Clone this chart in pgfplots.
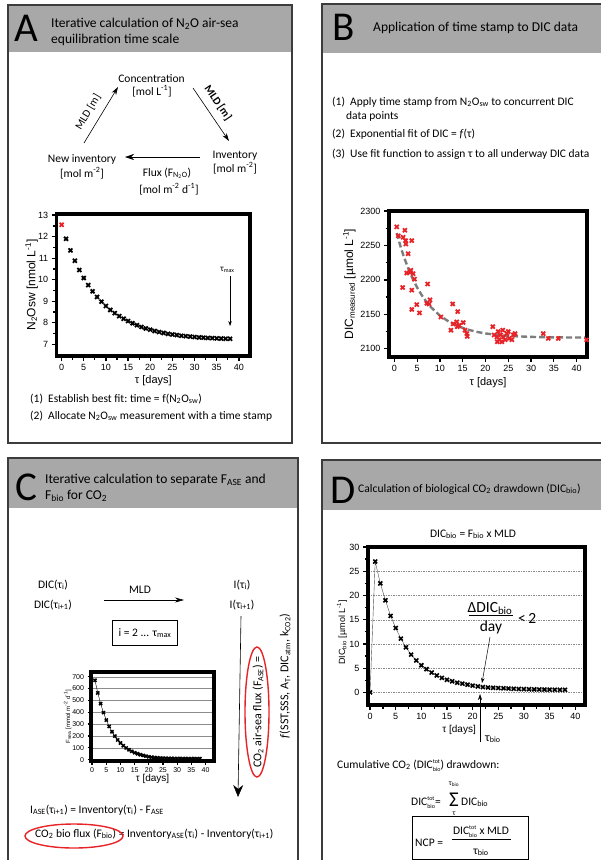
\documentclass[border=0pt]{standalone}
\usepackage{pgfplots}
\pgfplotsset{compat=1.18}
\usepackage{fontspec}
\setmainfont{Carlito}
\newfontfamily\arial{Liberation Sans}
\usetikzlibrary{arrows.meta}

\definecolor{hdr}{RGB}{168,168,168}
\definecolor{mred}{RGB}{232,35,40}
\definecolor{fitgray}{RGB}{125,125,125}
\definecolor{frame}{RGB}{60,60,60}
\newcommand\fs[1]{\fontsize{#1}{#1}\selectfont}
% stacked super/subscript, e.g. DIC^tot_bio
\newcommand\tb[2]{{\fs{6}\begin{tabular}{@{}l@{}}#1\\[1.6pt]#2\end{tabular}}}

\pgfplotsset{
  prism/.style={
    scale only axis, clip=false,
    axis line style={line width=3.2pt},
    tick style={black, line width=1.3pt},
    tick align=outside,
    major tick length=5pt, minor tick length=3.5pt,
    xtick pos=bottom, ytick pos=left,
    /pgf/number format/assume math mode=true,
    /pgf/number format/1000 sep={},
    tick label style={font=\arial\fs{9}},
    label style={font=\arial\fs{11}},
    ylabel style={anchor=center},
  },
  xmk/.style={mark=x, mark size=2.8pt, mark options={line width=1.8pt, solid}},
}

\begin{document}
\begin{tikzpicture}[font=\fs{11.5}]
\useasboundingbox (0pt,0pt) rectangle (601pt,-860pt);
\clip (0pt,0pt) rectangle (601pt,-860pt);

% ---- panel frames and headers (pixel coordinates, y downwards)
\begin{scope}[x=1pt, y=-1pt]
  \fill[white] (0,0) rectangle (601,860);
  \fill[hdr] (8,5) rectangle (292,52);
  \draw[frame, line width=1.2pt] (8,5) rectangle (292,443);
  \fill[hdr] (322,4) rectangle (606,53);
  \draw[frame, line width=1.2pt] (606,4) -- (322,4) -- (322,443) -- (606,443);
  \fill[hdr] (8,458) rectangle (298,508);
  \draw[frame, line width=1.2pt] (8,870) -- (8,458) -- (298,458) -- (298,870);
  \fill[hdr] (322,460) rectangle (606,510);
  \draw[frame, line width=1.2pt] (606,460) -- (322,460) -- (322,870);
\end{scope}

% ---- A: N2O equilibration
\begin{axis}[prism, at={(56.7pt,-356pt)}, anchor=south west,
  width=193.3pt, height=142pt,
  xmin=-1.1, xmax=42.5, ymin=6.46, ymax=13.05,
  xtick={0,5,...,40}, ytick={7,...,13}, minor x tick num=1, minor y tick num=1,
  xlabel={τ [days]}, ylabel={N\textsubscript{2}Osw [nmol L\textsuperscript{-1}]},
  xlabel style={at={(axis description cs:0.5,0)}, anchor=north, yshift=-16pt},
  ylabel style={at={(axis description cs:-0.13,0.5)}, font=\arial\fs{12}},
]
\addplot[only marks, xmk, mred] coordinates {(0,12.55)};
\addplot[only marks, xmk, black] coordinates {
(1,11.90) (2,11.36) (3,10.88) (4,10.45) (5,10.08) (6,9.75) (7,9.46) (8,9.20)
(9,8.98) (10,8.78) (11,8.60) (12,8.45) (13,8.31) (14,8.19) (15,8.08) (16,7.98)
(17,7.89) (18,7.81) (19,7.74) (20,7.68) (21,7.62) (22,7.57) (23,7.53) (24,7.49)
(25,7.46) (26,7.43) (27,7.40) (28,7.38) (29,7.36) (30,7.34) (31,7.32) (32,7.31)
(33,7.30) (34,7.29) (35,7.28) (36,7.27) (37,7.26) (38,7.26)};
\draw[-{Stealth[length=5pt,width=3.5pt]}, line width=0.5pt] (axis cs:38,10.15) -- (axis cs:38,7.85);
\node[anchor=base, font=\fs{9}] at (axis cs:37.4,10.4) {τ\textsubscript{max}};
\draw[black, line width=3.2pt] (rel axis cs:0,0) rectangle (rel axis cs:1,1);
\end{axis}

% ---- B: DIC vs tau
\begin{axis}[prism, at={(389pt,-357pt)}, anchor=south west,
  width=198pt, height=146pt,
  xmin=-1.2, xmax=42.3, ymin=2088, ymax=2300,
  xtick={0,5,...,40}, ytick={2100,2150,...,2300}, minor y tick num=1,
  xlabel={τ [days]}, ylabel={DIC\textsubscript{measured} [µmol L\textsuperscript{-1}]},
  xlabel style={at={(axis description cs:0.5,0)}, anchor=north, yshift=-17pt},
  ylabel style={at={(axis description cs:-0.2,0.5)}, font=\arial\fs{12}},
]
\addplot[fitgray, line width=2.4pt, dash pattern=on 6pt off 3pt] coordinates {
(0.5,2268.0) (1,2256.1) (1.5,2245.0) (2,2234.8) (3,2217.0) (4,2201.6) (5,2188.7)
(6,2177.7) (7,2168.3) (8,2160.4) (10,2148.0) (12,2139.1) (14,2132.6) (16,2128.0)
(18,2124.6) (20,2122.2) (23,2119.8) (26,2118.3) (30,2117.2) (35,2116.5) (42.3,2116.2)};
\addplot[only marks, xmk, mred] coordinates {
(0.5,2277) (0.85,2264) (1.9,2262) (2.3,2272) (2.45,2257) (2.5,2252) (3.0,2238)
(3.8,2257) (2.7,2210) (3.4,2211) (3.6,2214) (4.1,2209) (4.4,2201) (1.8,2189)
(3.8,2185) (3.8,2157) (4.9,2164) (5.5,2152) (7.3,2194) (7.1,2166) (7.8,2171)
(7.6,2165) (10.2,2146) (12.8,2165) (13.9,2154) (12.4,2127) (12.9,2136) (13.7,2139)
(13.8,2132) (14.2,2134) (15.1,2138) (15.5,2127) (15.9,2122) (16.0,2118)
(21.6,2132) (21.9,2120) (22.5,2117) (22.8,2125) (23.0,2113) (23.3,2120) (23.8,2127)
(23.9,2117) (24.3,2113) (24.7,2122) (25.0,2125) (25.2,2115) (25.8,2113) (26.1,2120)
(26.5,2122) (23.6,2110) (22.6,2110) (32.7,2122) (33.8,2115) (36.0,2115) (42.2,2113)};
\draw[black, line width=3.2pt] (rel axis cs:0,0) rectangle (rel axis cs:1,1);
\end{axis}

% ---- C: air-sea flux
\begin{axis}[prism, at={(91pt,-761pt)}, anchor=south west,
  width=123pt, height=89pt,
  xmin=-0.4, xmax=43, ymin=-12, ymax=740,
  major tick length=3.5pt,
  xtick={0,5,...,40}, ytick={0,100,...,700},
  ymajorgrids, major grid style={black!45, line width=0.4pt},
  tick label style={font=\arial\fs{7}},
  xlabel={τ [days]}, ylabel={F\textsubscript{sea} [mmol m\textsuperscript{-2} d\textsuperscript{-1}]},
  xlabel style={at={(axis description cs:0.5,0)}, anchor=north, yshift=-10pt, font=\arial\fs{10}},
  ylabel style={at={(axis description cs:-0.19,0.5)}, font=\arial\fs{6}},
]
\addplot[black, line width=0.4pt, mark=x, mark size=2.2pt, mark options={line width=1.5pt}] coordinates {
(1,670) (2,563) (3,473) (4,397) (5,334) (6,280) (7,235) (8,198) (9,166) (10,140)
(11,117) (12,98) (13,83) (14,70) (15,58) (16,49) (17,41) (18,35) (19,29) (20,24)
(21,20) (22,17) (23,15) (24,13) (25,12) (26,11) (27,10) (28,10) (29,9) (30,9)
(31,9) (32,8) (33,8) (34,8) (35,8) (36,8) (37,8) (38,8)};
\draw[black, line width=2.8pt] (rel axis cs:0,0) rectangle (rel axis cs:1,1);
\end{axis}

% ---- D: biological drawdown
\begin{axis}[prism, at={(368pt,-705pt)}, anchor=south west,
  width=217pt, height=158pt,
  xmin=-0.4, xmax=41.9, ymin=-2.6, ymax=30,
  xtick={0,5,...,40}, ytick={0,5,...,30}, minor x tick num=1, minor y tick num=1,
  ymajorgrids, major grid style={black!45, dash pattern=on 1.5pt off 1pt, line width=0.4pt},
  xlabel={τ [days]}, ylabel={DIC\textsubscript{bio} [µmol L\textsuperscript{-1}]},
  xlabel style={at={(axis description cs:0.42,0)}, anchor=north, yshift=-17pt, font=\arial\fs{10}},
  ylabel style={at={(axis description cs:-0.12,0.46)}, font=\arial\fs{9}},
]
\addplot[black!70, line width=0.4pt, mark=x, mark size=2.8pt, mark options={black, line width=1.6pt}] coordinates {
(0,0) (1,27) (2,22.5) (3,19) (4,15.8) (5,13.3) (6,11.1) (7,9.3) (8,7.8) (9,6.6)
(10,5.6) (11,4.8) (12,4.1) (13,3.5) (14,3.0) (15,2.6) (16,2.3) (17,2.0) (18,1.8)
(19,1.6) (20,1.4) (21,1.25) (22,1.1) (23,1.0) (24,0.95) (25,0.9) (26,0.85)
(27,0.8) (28,0.75) (29,0.7) (30,0.68) (31,0.65) (32,0.62) (33,0.6) (34,0.58)
(35,0.56) (36,0.55) (37,0.54) (38,0.53)};
\draw[black, line width=3.2pt] (rel axis cs:0,0) rectangle (rel axis cs:1,1);
\end{axis}

% ---- text and diagram elements
\begin{scope}[x=1pt, y=-1pt, every node/.style={inner sep=0pt}]
  % A header and cycle
  \node[anchor=base west, font=\fs{41}] at (14,41) {A};
  \node[anchor=base west, font=\fs{13.5}] at (51,27) {Iterative calculation of N\textsubscript{2}O air-sea};
  \node[anchor=base west, font=\fs{13.5}] at (51,43) {equilibration time scale};
  \node[anchor=base] at (151.5,82) {Concentration};
  \node[anchor=base] at (152,95) {[mol L\textsuperscript{-1}]};
  \draw[-{Stealth[length=8pt,width=5pt]}, line width=0.6pt] (84,143) -- (118,87);
  \node[rotate=59, font=\fs{11}] at (88,112) {MLD [m]};
  \draw[-{Stealth[length=8pt,width=5pt]}, line width=0.6pt] (193,88) -- (229,141);
  \node[rotate=-56, font=\bfseries\fs{11}] at (218,103) {MLD [m]};
  \node[anchor=base] at (82,162) {New inventory};
  \node[anchor=base] at (82,177) {[mol m\textsuperscript{-2}]};
  \node[anchor=base] at (235,158) {Inventory};
  \node[anchor=base] at (235,172) {[mol m\textsuperscript{-2}]};
  \draw[-{Stealth[length=9pt,width=6pt]}, line width=0.6pt] (200,157) -- (125,157);
  \node[anchor=base] at (167,176) {Flux (F\textsubscript{N\textsubscript{2}O})};
  \node[anchor=base] at (169,193) {[mol m\textsuperscript{-2} d\textsuperscript{-1}]};
  \node[anchor=base west] at (30,402) {(1)\ \ Establish best fit:\ time = f(N\textsubscript{2}O\textsubscript{sw})};
  \node[anchor=base west] at (30,419) {(2)\ \ Allocate N\textsubscript{2}O\textsubscript{sw} measurement with a time stamp};

  % B header and steps
  \node[anchor=base west, font=\fs{41}] at (332,40) {B};
  \node[anchor=base west, font=\fs{13.5}] at (373,31) {Application of time stamp to DIC data};
  \node[anchor=base west] at (332,105) {(1)\ \ Apply time stamp from N\textsubscript{2}O\textsubscript{sw} to concurrent DIC};
  \node[anchor=base west] at (346,119) {data points};
  \node[anchor=base west] at (332,137) {(2)\ \ Exponential fit of DIC = \textit{f}(τ)};
  \node[anchor=base west] at (332,157) {(3)\ \ Use fit function to assign τ to all underway DIC data};

  % C header and scheme
  \node[anchor=base west, font=\fs{41}] at (15,500) {C};
  \node[anchor=base west, font=\fs{13.5}] at (45,483) {Iterative calculation to separate F\textsubscript{ASE} and};
  \node[anchor=base west, font=\fs{13.5}] at (45,499) {F\textsubscript{bio} for CO\textsubscript{2}};
  \node[anchor=base] at (53,588) {DIC(τ\textsubscript{i})};
  \node[anchor=base] at (53,608) {DIC(τ\textsubscript{i+1})};
  \node[anchor=base] at (140,593) {MLD};
  \draw[-{Stealth[length=9pt,width=5pt]}, line width=0.6pt] (104,600) -- (184,600);
  \node[anchor=base] at (242,588) {I(τ\textsubscript{i})};
  \node[anchor=base] at (242,608) {I(τ\textsubscript{i+1})};
  \draw[line width=0.6pt] (112,620) rectangle (177,645);
  \node[anchor=base] at (145,636) {i = 2 ... τ\textsubscript{max}};
  \draw[-{Stealth[length=12pt,width=10pt]}, line width=0.6pt] (241,616) -- (238,797);
  \node[rotate=90, font=\fs{12}] at (258,712) {CO\textsubscript{2} air-sea flux (F\textsubscript{ASE}) =};
  \draw[mred, line width=1.4pt] (257,712) ellipse (12 and 65);
  \node[rotate=90, font=\fs{12}] at (285,676) {\textit{f}(SST,SSS, A\textsubscript{T}, DIC\textsubscript{atm}, k\textsubscript{CO2})};
  \node[anchor=base west] at (30,813) {I\textsubscript{ASE}(τ\textsubscript{i+1}) = Inventory(τ\textsubscript{i}) - F\textsubscript{ASE}};
  \node[anchor=base west] at (35,837) {CO\textsubscript{2} bio flux (F\textsubscript{bio}) = Inventory\textsubscript{ASE}(τ\textsubscript{i}) - Inventory(τ\textsubscript{i+1})};
  \draw[mred, line width=1.4pt] (74,836) ellipse (49 and 12);

  % D header and annotations
  \node[anchor=base west, font=\fs{41}] at (330,503) {D};
  \node[anchor=base west, font=\fs{11.6}] at (358,492) {Calculation of biological CO\textsubscript{2} drawdown (DIC\textsubscript{bio})};
  \node[anchor=base] at (473,537) {DIC\textsubscript{bio} = F\textsubscript{bio} x MLD};
  \node[anchor=base, font=\fs{15.5}] at (490,612) {ΔDIC\textsubscript{bio}};
  \draw[line width=0.6pt] (469,615) -- (513,615);
  \node[anchor=base, font=\fs{15.5}] at (491,631) {day};
  \node[anchor=west, font=\fs{15.5}] at (518,618) {<\,2};
  \draw[-{Stealth[length=5pt,width=3.5pt]}, line width=0.5pt] (490,637) -- (482,683);
  \draw[-{Stealth[length=6pt,width=4pt]}, line width=0.6pt] (480,742) -- (480,694);
  \node[anchor=base west, font=\fs{12}] at (485,741) {τ\textsubscript{bio}};
  \node[anchor=base west] at (337,768) {Cumulative CO\textsubscript{2} (DIC\tb{tot}{bio}) drawdown:};
  \node[anchor=base west] at (411,805) {DIC\tb{tot}{bio}=};
  \node[anchor=base, font=\fs{21}] at (454,806) {Σ};
  \node[anchor=base, font=\fs{7.5}] at (454,785) {τ\textsubscript{bio}};
  \node[anchor=base, font=\fs{7.5}] at (454,815) {τ};
  \node[anchor=base west] at (461,805) {DIC\textsubscript{bio}};
  \draw[line width=0.6pt] (412,816) rectangle (528,859);
  \node[anchor=base west] at (415,846) {NCP =};
  \node[anchor=base] at (481,834) {DIC\tb{tot}{bio} x MLD};
  \draw[line width=0.5pt] (452,839) -- (511,839);
  \node[anchor=base] at (481,854) {τ\textsubscript{bio}};
\end{scope}
\end{tikzpicture}
\end{document}
